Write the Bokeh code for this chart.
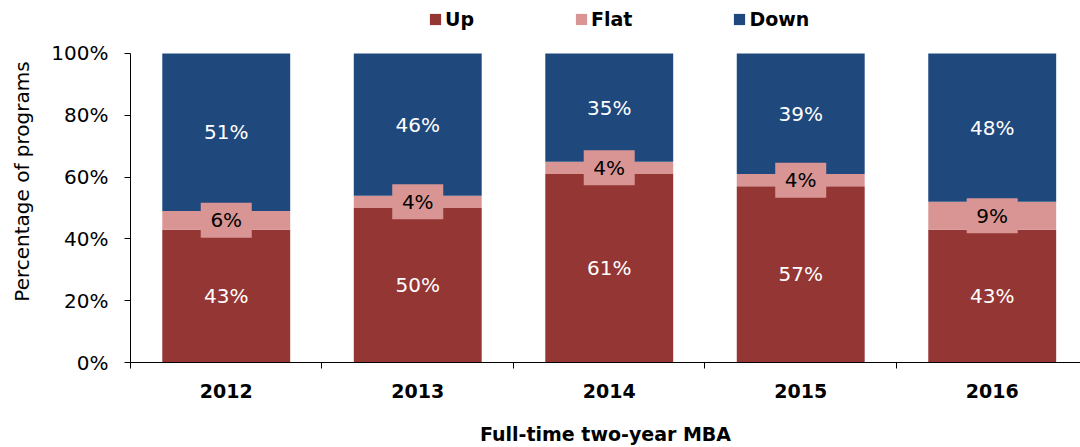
from bokeh.plotting import figure
from bokeh.models import (Range1d, FixedTicker, Legend, LegendItem, ColumnDataSource,
                          CustomJSTickFormatter)
from bokeh.core.properties import value
from bokeh.embed import file_html
from bokeh.resources import INLINE

years = ["2012", "2013", "2014", "2015", "2016"]
up = [43, 50, 61, 57, 43]
flat = [6, 4, 4, 4, 9]
down = [51, 46, 35, 39, 48]
y_ticks = [0, 20, 40, 60, 80, 100]

FONT = "DejaVu Sans"
C_UP, C_FLAT, C_DOWN = "#943634", "#D99594", "#1F497D"

x = [i + 0.5 for i in range(len(years))]
src = ColumnDataSource(dict(
    x=x, up=up, flat=flat, down=down,
    up_mid=[u / 2 for u in up],
    flat_mid=[u + f / 2 for u, f in zip(up, flat)],
    down_mid=[u + f + d / 2 for u, f, d in zip(up, flat, down)],
    up_lbl=[f"{v}%" for v in up],
    flat_lbl=[f"{v}%" for v in flat],
    down_lbl=[f"{v}%" for v in down],
))

# frame spans the full height above the x axis; the extra room at the top holds the legend
p = figure(width=1080, height=447, x_range=Range1d(0, 4.961), y_range=Range1d(0, 117.15),
           output_backend="svg", toolbar_location=None,
           min_border_left=130, min_border_right=0, min_border_top=0, min_border_bottom=85)
p.outline_line_color = None
p.xgrid.visible = False
p.ygrid.visible = False

rs = p.vbar_stack(["up", "flat", "down"], x="x", width=0.668, source=src,
                  color=[C_UP, C_FLAT, C_DOWN], line_color=None)

p.rect(x="x", y="flat_mid", width=51, height=35, width_units="screen", height_units="screen",
       fill_color=C_FLAT, line_color=None, source=src)

common = dict(text_align="center", text_baseline="middle", text_font=value(FONT),
              text_font_size="20px", text_font_style="normal", source=src)
p.text(x="x", y="up_mid", text="up_lbl", text_color="white", **common)
p.text(x="x", y="flat_mid", text="flat_lbl", text_color="black", **common)
p.text(x="x", y="down_mid", text="down_lbl", text_color="white", **common)

# y axis
ya = p.yaxis[0]
ya.ticker = FixedTicker(ticks=y_ticks)
ya.bounds = (0, 100)
ya.formatter = CustomJSTickFormatter(code="return tick + '%';")
ya.major_tick_out = 6
ya.major_tick_in = 0
ya.minor_tick_out = 0
ya.minor_tick_in = 0
ya.major_label_standoff = 16
ya.major_label_text_font = FONT
ya.major_label_text_font_size = "20px"
ya.major_label_text_color = "black"
ya.axis_line_color = "black"
ya.major_tick_line_color = "black"
ya.axis_label = "Percentage of programs"
ya.axis_label_text_font = FONT
ya.axis_label_text_font_size = "20px"
ya.axis_label_text_font_style = "normal"
ya.axis_label_text_color = "black"
ya.axis_label_standoff = 14

# x axis
xa = p.xaxis[0]
xa.ticker = FixedTicker(ticks=x, minor_ticks=list(range(len(years) + 1)))
xa.formatter = CustomJSTickFormatter(args=dict(labels=years),
                                     code="return labels[Math.floor(tick)] || '';")
xa.major_tick_out = 0
xa.major_tick_in = 0
xa.minor_tick_out = 6
xa.minor_tick_in = 0
xa.minor_tick_line_color = "black"
xa.axis_line_color = "black"
xa.major_label_standoff = 15
xa.major_label_text_font = FONT
xa.major_label_text_font_size = "19px"
xa.major_label_text_font_style = "bold"
xa.major_label_text_color = "black"
xa.axis_label = "Full-time two-year MBA"
xa.axis_label_text_font = FONT
xa.axis_label_text_font_size = "19px"
xa.axis_label_text_font_style = "bold"
xa.axis_label_text_color = "black"
xa.axis_label_standoff = 22

legend = Legend(items=[LegendItem(label="Up", renderers=[rs[0]]),
                       LegendItem(label="Flat", renderers=[rs[1]]),
                       LegendItem(label="Down", renderers=[rs[2]])],
                orientation="horizontal", location=(298, 332),
                glyph_width=14, glyph_height=14, label_standoff=3, spacing=100,
                padding=0, margin=0, border_line_color=None, background_fill_alpha=0,
                label_text_font=FONT, label_text_font_size="19px",
                label_text_font_style="bold", label_text_color="black")
p.add_layout(legend, "center")

open("out.html", "w").write(file_html(p, INLINE))
